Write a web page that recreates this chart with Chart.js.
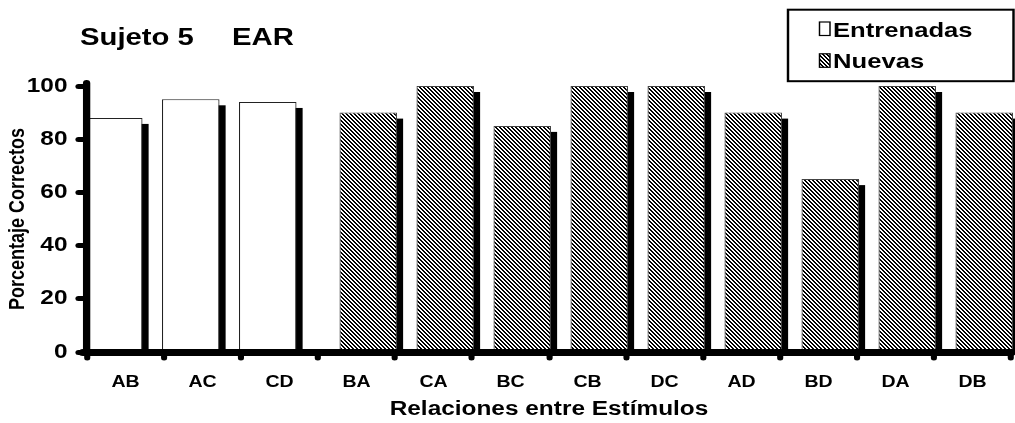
<!DOCTYPE html>
<html>
<head>
<meta charset="utf-8">
<script src="https://cdn.jsdelivr.net/npm/chart.js@4/dist/chart.umd.min.js"></script>
<style>
  html, body { margin: 0; padding: 0; background: #fff; }
  #wrap { width: 1015px; height: 423px; position: relative; }
</style>
</head>
<body>
<div id="wrap"><canvas id="c"></canvas></div>
<script>
// ---- data ----
const categories  = ['AB', 'AC', 'CD', 'BA', 'CA', 'BC', 'CB', 'DC', 'AD', 'BD', 'DA', 'DB'];
const entrenadas  = [88, 95, 94, null, null, null, null, null, null, null, null, null];
const nuevas      = [null, null, null, 90, 100, 85, 100, 100, 90, 65, 100, 90];
const seriesNames = ['Entrenadas', 'Nuevas'];
const yTicks      = [0, 20, 40, 60, 80, 100];
const titleParts  = ['Sujeto 5', 'EAR'];
const xTitle      = 'Relaciones entre Estímulos';
const yTitle      = 'Porcentaje Correctos';

// ---- look ----
const STRETCH = 1.22;               // horizontal stretch of the whole drawing
const FAMILY  = '"Liberation Sans", Arial, Helvetica, sans-serif';
const SHADOW_DX = 5, SHADOW_DY = 6; // drop shadow behind every bar

// diagonal black/white hatch, kept at device-pixel scale
function makeHatch(ctx) {
  const t = document.createElement('canvas');
  t.width = 4; t.height = 4;
  const g = t.getContext('2d');
  g.fillStyle = '#fff'; g.fillRect(0, 0, 4, 4);
  g.fillStyle = '#000';
  for (let i = 0; i < 4; i++) {
    g.fillRect(i, i, 1, 1);
    g.fillRect((i + 1) % 4, i, 1, 1);
  }
  const p = ctx.createPattern(t, 'repeat');
  p.setTransform(new DOMMatrix([1 / STRETCH, 0, 0, 1, 0, 0]));
  return p;
}

const canvas = document.getElementById('c');
const hatch = makeHatch(canvas.getContext('2d'));

// draws the whole chart widened by STRETCH
const stretchPlugin = {
  id: 'stretch',
  beforeDraw(chart) {
    const r = chart.currentDevicePixelRatio;
    chart.ctx.setTransform(r * STRETCH, 0, 0, r, 0, 0);
    chart.ctx.lineCap = 'round';
  },
  afterDraw(chart) {
    const r = chart.currentDevicePixelRatio;
    chart.ctx.setTransform(r, 0, 0, r, 0, 0);
    chart.ctx.lineCap = 'butt';
  }
};

// solid black shadow offset down-right from each bar
const shadowPlugin = {
  id: 'barShadow',
  beforeDatasetsDraw(chart) {
    const ctx = chart.ctx;
    ctx.save();
    ctx.fillStyle = '#000';
    chart.data.datasets.forEach((ds, i) => {
      chart.getDatasetMeta(i).data.forEach((bar, j) => {
        if (ds.data[j] == null) return;
        const { x, y, width, base } = bar.getProps(['x', 'y', 'width', 'base'], true);
        ctx.fillRect(x - width / 2 + SHADOW_DX, y + SHADOW_DY, width, base - y - SHADOW_DY);
      });
    });
    ctx.restore();
  }
};

// title at top-left and framed legend at top-right
const headerPlugin = {
  id: 'header',
  afterDraw(chart) {
    const ctx = chart.ctx;
    ctx.save();
    ctx.fillStyle = '#000';
    ctx.textBaseline = 'alphabetic';
    ctx.textAlign = 'left';
    ctx.font = `bold 24px ${FAMILY}`;
    ctx.fillText(titleParts[0], 80 / STRETCH, 45);
    ctx.fillText(titleParts[1], 232 / STRETCH, 45);

    // legend frame
    ctx.lineWidth = 2;
    ctx.lineJoin = 'miter';
    ctx.lineCap = 'butt';
    ctx.strokeStyle = '#000';
    const lx = 788 / STRETCH, lr = 1013.5 / STRETCH;
    ctx.strokeRect(lx, 9.7, lr - lx, 71.5);

    // legend rows
    const sx = 819.5 / STRETCH, sw = 10.5 / STRETCH, sh = 13.5;
    const fills = ['#fff', hatch];
    const baselines = [36.5, 68.3];
    ctx.font = `bold 21px ${FAMILY}`;
    seriesNames.forEach((name, k) => {
      const top = baselines[k] - 14.5;
      ctx.fillStyle = fills[k];
      ctx.fillRect(sx, top, sw, sh);
      ctx.lineWidth = 1.2;
      ctx.strokeStyle = '#000';
      ctx.strokeRect(sx, top, sw, sh);
      ctx.fillStyle = '#000';
      ctx.fillText(name, 833 / STRETCH, baselines[k]);
    });
    ctx.restore();
  }
};

const tickFont   = { family: FAMILY, size: 16, weight: 'bold' };
const yTickFont  = { family: FAMILY, size: 20, weight: 'bold' };
const xTitleFont = { family: FAMILY, size: 20, weight: 'bold' };
const yTitleFont = { family: FAMILY, size: 18, weight: 'bold' };

new Chart(canvas, {
  type: 'bar',
  data: {
    labels: categories,
    datasets: [
      { label: seriesNames[0], data: entrenadas, backgroundColor: '#fff',
        borderColor: '#222', borderWidth: 1, clip: false },
      { label: seriesNames[1], data: nuevas, backgroundColor: hatch,
        borderColor: '#444', borderWidth: 1, clip: false }
    ]
  },
  options: {
    responsive: true,
    maintainAspectRatio: false,
    animation: false,
    devicePixelRatio: 1,
    events: [],
    layout: { padding: { top: 86, left: 0, bottom: 0, right: 1015 - 1011 / STRETCH } },
    datasets: { bar: { categoryPercentage: 0.61, barPercentage: 2.45 } },
    plugins: {
      legend: { display: false },
      title: { display: false },
      tooltip: { enabled: false }
    },
    scales: {
      x: {
        grid: { display: true, drawOnChartArea: false, drawTicks: true, offset: true,
                tickLength: 6, tickWidth: 5, tickColor: '#000', z: 1 },
        border: { display: true, color: '#000', width: 7, z: 1 },
        ticks: { color: '#000', font: tickFont, padding: 15, maxRotation: 0, autoSkip: false },
        title: { display: true, text: xTitle, color: '#000', font: xTitleFont,
                 padding: { top: 0, bottom: 2 } },
        afterFit(scale) { scale.height = 423 - 352; }
      },
      y: {
        min: 0,
        max: 100,
        afterBuildTicks(scale) { scale.ticks = yTicks.map(v => ({ value: v })); },
        grid: { display: true, drawOnChartArea: false, drawTicks: true,
                tickLength: 7, tickWidth: 5, tickColor: '#000', z: 1 },
        border: { display: true, color: '#000', width: 6, z: 1 },
        ticks: { color: '#000', font: yTickFont, padding: 9 },
        title: { display: true, text: yTitle, color: '#000', font: yTitleFont,
                 padding: { top: 4, bottom: 0 } },
        afterFit(scale) { scale.width = 87 / STRETCH; }
      }
    }
  },
  plugins: [shadowPlugin, headerPlugin, stretchPlugin]
});
</script>
</body>
</html>
